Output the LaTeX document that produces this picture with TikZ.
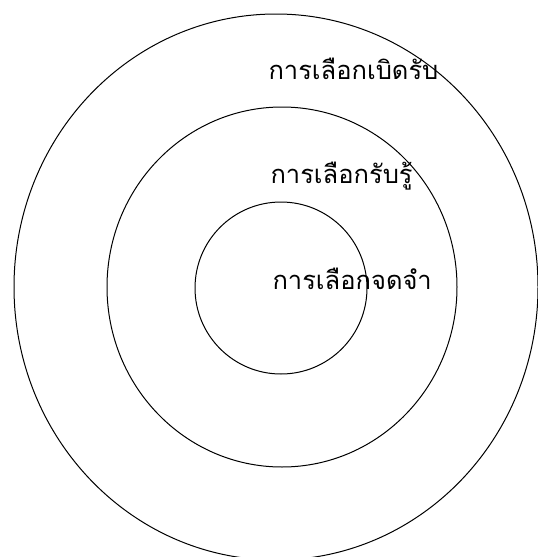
\documentclass[tikz,border=0pt]{standalone}
\usepackage{fontspec}
\newfontfamily\thaifont[Script=Thai]{Loma}
\begin{document}
\begin{tikzpicture}[x=1pt,y=-1pt,line width=1pt,font=\thaifont\fontsize{25.5}{30}\selectfont]
  \useasboundingbox (0,0) rectangle (538,557);

  % สามวงซ้อนกัน
  \coordinate (O1) at (276,287);
  \coordinate (O2) at (282,287);
  \coordinate (O3) at (281,288);
  \draw (O1) ellipse (262 and 273);
  \draw (O2) ellipse (175 and 180);
  \draw (O3) ellipse (86 and 86);

  % ป้ายชื่อ
  \node[anchor=base west,inner sep=0pt] (expo) at (268,79) {การเลือกเบิดรับ};
  \node[anchor=base west,inner sep=0pt] (perc) at (270,183) {การเลือกรับรู้};
  \node[anchor=base west,inner sep=0pt] (rete) at (272,289) {การเลือกจดจำ};
\end{tikzpicture}
\end{document}
